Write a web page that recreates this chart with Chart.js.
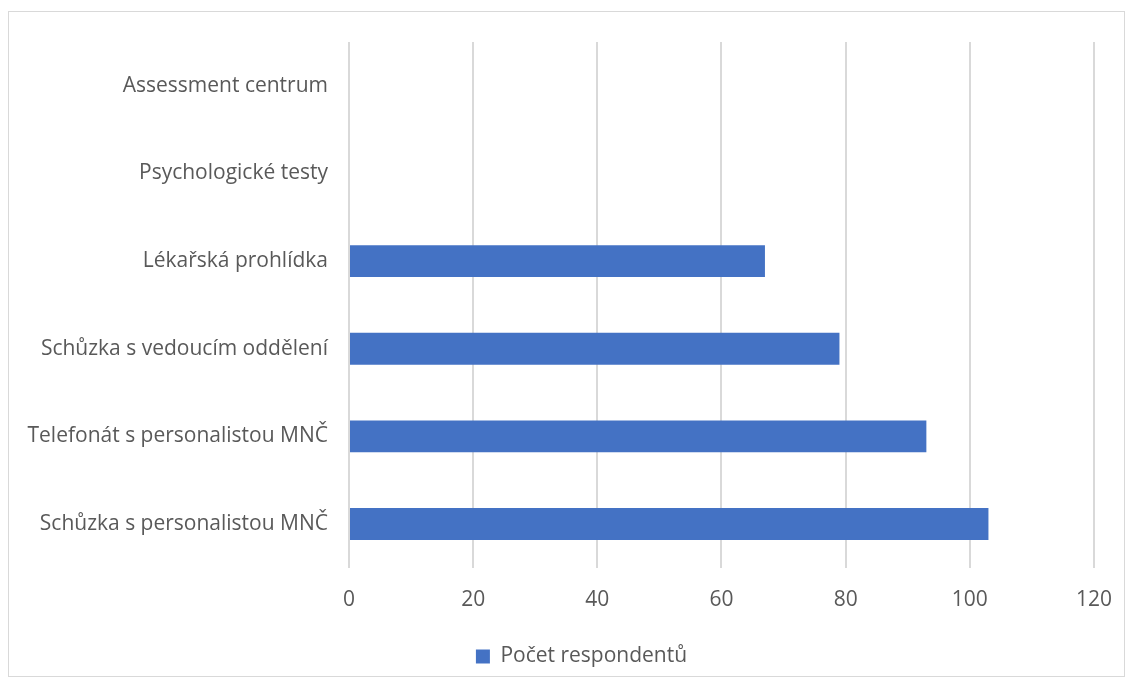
<!DOCTYPE html>
<html>
<head>
<meta charset="utf-8">
<script src="https://cdn.jsdelivr.net/npm/chart.js@4"></script>
<style>
  body { margin: 0; background: #fff; }
  #frame { position: absolute; left: 8px; top: 11px; width: 1115px; height: 664px; border: 1px solid #d9d9d9; }
  #myChart { position: absolute; left: 0; top: 0; }
</style>
</head>
<body>
<div id="frame"></div>
<canvas id="myChart" width="1132" height="684"></canvas>
<script>
const labels = ['Assessment centrum', 'Psychologické testy', 'Lékařská prohlídka',
    'Schůzka s vedoucím oddělení', 'Telefonát s personalistou MNČ', 'Schůzka s personalistou MNČ'];
const values = [0, 0, 67, 79, 93, 103];
const seriesName = 'Počet respondentů';

const ctx = document.getElementById('myChart');
const font = { family: '"Open Sans", sans-serif', size: 21 };

// legend sits a bit right of centre in the original
const shiftLegend = {
    id: 'shiftLegend',
    afterLayout(chart) {
        chart.legend.left += 32;
        chart.legend.right += 32;
    }
};

new Chart(ctx, {
    type: 'bar',
    data: {
        labels: labels,
        datasets: [{
            label: seriesName,
            data: values,
            backgroundColor: '#4472C4',
            barPercentage: 0.364,
            categoryPercentage: 1
        }]
    },
    options: {
        indexAxis: 'y',
        responsive: false,
        animation: false,
        layout: { padding: { top: 42, right: 33, left: 0, bottom: 7 } },
        plugins: {
            legend: {
                position: 'bottom',
                labels: { boxWidth: 14, boxHeight: 14, color: '#595959', font: font, padding: 6 }
            },
            tooltip: { enabled: false }
        },
        scales: {
            x: {
                min: 0, max: 120,
                ticks: { stepSize: 20, color: '#595959', font: font, padding: 20 },
                grid: { color: '#d9d9d9', lineWidth: 2, drawTicks: false },
                border: { display: false },
                afterFit: (s) => { s.height += 7; }
            },
            y: {
                ticks: { color: '#595959', font: font, padding: 13 },
                grid: { display: false },
                border: { display: false },
                afterFit: (s) => { s.width = 349; }
            }
        }
    },
    plugins: [shiftLegend]
});
</script>
</body>
</html>
